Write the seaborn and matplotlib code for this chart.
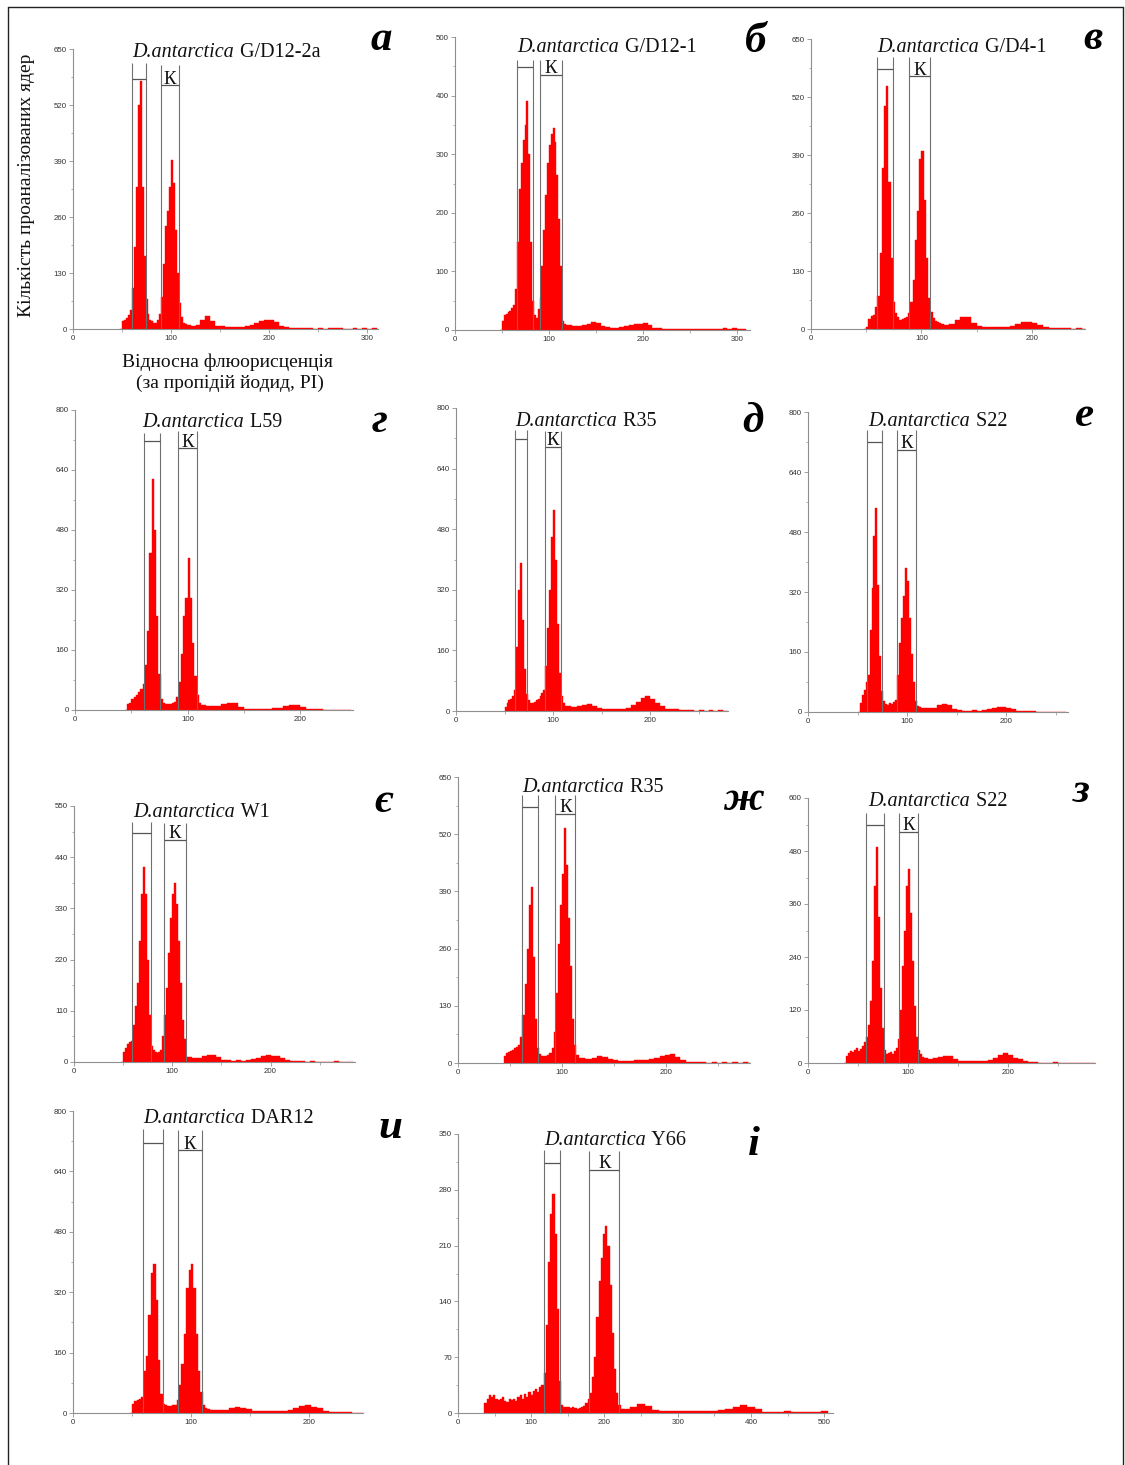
import numpy as np
import pandas as pd
import matplotlib
matplotlib.use("Agg")
import matplotlib.pyplot as plt
from matplotlib.text import Annotation
from matplotlib.ticker import MultipleLocator, AutoMinorLocator
from matplotlib.lines import Line2D
import seaborn as sns

# ---------------- data (counts) ----------------
# core bins: width 2 (width 3 for panel i); tail bins: width 5 (10 for panel i)
a_core = [0,18,22,25,32,45,95,190,330,520, 575,330,170,70,35,22,18,15,14,20,
          35,75,150,240,275,330,392,340,230,130, 60,28,15,12,10,9]
a_tail = [8,10,22,30,18,8,6,5,5,4,5,6,10,14,18,20,20,16,8,4,3,3,2,2,2,1,2,1,2,3,2,1,1,2,1,2,1,2]

b_core = [0,15,25,28,30,33,38,42,70,150, 240,285,325,350,390,300,150,50,25,20,
          35,55,110,170,230,285,315,335,345,320, 265,190,110,15,10,8]
b_tail = [8,7,6,8,10,14,12,7,5,4,4,5,7,9,10,11,12,8,4,3,2,2,1,2,1,2,1,1,2,1,1,2,2,3,2,3,2,2]

v_core = [0,5,22,30,32,50,75,170,360,500, 545,330,160,60,35,28,20,22,25,28,
          35,60,110,200,265,380,400,290,160,70, 38,25,18,15,13,12]
v_tail = [10,12,20,28,26,14,6,5,4,4,4,5,6,12,15,16,14,8,4,3,2,2,2,1,2,1]

g_core = [0,15,20,30,35,40,48,55,70,120, 210,420,615,480,250,95,30,18,16,15,
          17,18,22,35,75,150,250,300,405,300, 180,90,40,18,14,13,12,12]
g_tail = [10,12,15,18,18,8,4,4,3,4,4,5,6,10,14,13,8,4,3,2,1,0,0,0,0]

d_core = [10,22,28,32,40,55,170,320,390,240, 110,45,28,22,22,25,28,32,40,48,
          55,120,220,320,460,530,400,230,100,40, 22,14,12,12,11]
d_tail = [10,12,16,18,12,7,5,5,5,5,6,8,15,25,35,40,32,22,12,6,5,4,2,2,2,1,2,1,2,1,2,1]

e_core = [0,25,45,60,80,100,220,330,470,545, 340,150,55,30,22,20,24,22,26,32,
          100,185,250,310,385,350,250,155,80,30, 16,13,12,12,10]
e_tail = [10,12,18,22,18,8,5,4,4,5,4,5,7,10,13,14,12,7,4,3,2,3,1,1,1,1,0,0]

ye_core = [0,22,30,38,42,45,80,120,170,260, 360,420,360,220,100,35,25,22,20,22,
           25,55,100,160,235,310,360,385,340,260, 170,90,50,10,10,10]
ye_tail = [8,9,12,14,16,10,4,4,3,4,3,4,6,9,12,14,13,12,8,5,3,2,2,1,2,1,1,0,1,3,0,0,0]

zh_core = [15,22,25,28,30,33,36,40,60,110, 180,260,360,400,240,100,35,20,15,15,
           16,18,22,35,70,160,270,360,430,535, 450,330,220,100,40,18,12,12,11,10]
zh_tail = [10,12,15,14,10,6,5,5,5,6,6,7,8,12,15,18,20,14,6,3,2,2,2,1,2,1,2,1,2,1,2,1]

z_core = [0,15,22,28,25,30,35,28,32,38, 48,60,85,140,230,400,490,330,170,80,
          30,20,22,25,20,28,35,55,120,220, 300,400,440,340,230,130,60,30,20,14, 12,12]
z_tail = [10,12,14,16,15,8,5,4,4,5,4,5,7,12,18,22,18,12,8,4,2,2,1,1,0,2,0,1,1,0,1,1,1,1]

y_core = [0,25,32,35,38,42,110,150,260,370, 395,300,140,50,25,20,19,18,20,22,
          35,75,130,210,330,380,395,330,210,110, 55,22,12,10,9,8,8]
y_tail = [8,9,12,15,14,10,6,5,5,6,5,6,9,14,18,20,16,12,6,3,2,2,2,1,1]

i_core = [12,18,22,20,22,18,16,18,20,15, 14,17,16,18,15,20,22,18,24,20,
          26,22,28,30,26,32,35,50,110,190, 250,275,225,130,40,10,8,7,8,6,
          7,6,5,6,7,9,12,18,25,45, 70,120,165,195,225,235,210,160,100,55, 25,10,5]
i_tail = [5,8,11,9,4,3,3,3,3,3,3,3,3,4,5,8,10,7,5,1,1,1,2,1,1,1,1,2]

species = 'D.antarctica'
strain_names = ['G/D12-2a', 'G/D12-1', 'G/D4-1', 'L59', 'R35', 'S22',
                'W1', 'R35', 'S22', 'DAR12', 'Y66']
panel_letters = ['а', 'б', 'в', 'г', 'д', 'е', 'є', 'ж', 'з', 'и', 'і']
y_max = [650, 500, 650, 800, 800, 800, 550, 650, 600, 800, 350]
y_step = [130, 100, 130, 160, 160, 160, 110, 130, 120, 160, 70]
x_step = [100, 100, 100, 100, 100, 100, 100, 100, 100, 100, 100]
cores = [a_core, b_core, v_core, g_core, d_core, e_core, ye_core, zh_core, z_core, y_core, i_core]
tails = [a_tail, b_tail, v_tail, g_tail, d_tail, e_tail, ye_tail, zh_tail, z_tail, y_tail, i_tail]
core_start = [48, 48, 48, 44, 50, 50, 48, 44, 36, 48, 36]
core_w = [2, 2, 2, 2, 2, 2, 2, 2, 2, 2, 3]
tail_w = [5, 5, 5, 5, 5, 5, 5, 5, 5, 5, 10]
# gates: (lo, hi, top, bar)
gate1 = [(60, 74, 618, 580), (65.6, 83.3, 461, 448), (59.5, 74.6, 610, 582),
         (61.3, 75.5, 740, 717), (60.4, 73, 742, 719), (59.5, 75, 751, 719),
         (59.4, 78.8, 516, 493), (61.5, 76.6, 608, 582), (58.3, 76, 566, 539),
         (59.7, 76, 753, 716), (117.7, 139.5, 330, 314)]
gate2 = [(90, 108, 613, 566), (90.4, 114, 460, 436), (89, 108, 610, 566),
         (91.3, 108.7, 745, 698), (92, 107.7, 740, 698), (89.7, 109.2, 751, 700),
         (91.7, 113.8, 514, 478), (93.6, 112.8, 608, 567), (91, 110, 566, 524),
         (88.7, 109.3, 750, 696), (179.5, 220.5, 329, 305)]

# ---------------- layout (pixels) ----------------
W, H = 1125, 1465
axes_px = [(73, 378, 329, 49), (455, 750, 330, 37), (811, 1085, 329, 39),
           (75, 353, 710, 410), (456, 728, 711, 408), (808, 1068, 712, 412),
           (74, 355, 1062, 806), (458, 750, 1063, 777), (808, 1095, 1063, 798),
           (73, 363, 1413, 1111), (458, 833, 1413, 1134)]
x_max = [311, 314, 248, 247, 280, 262, 286, 281, 287, 246, 512]
title_px = [(132, 57), (517, 52), (877, 52), (142, 427), (515, 426), (868, 426),
            (133, 817), (522, 792), (868, 806), (143, 1123), (544, 1145)]
letter_px = [(381, 50), (756, 52), (1093, 49), (380, 432), (753, 432), (1085, 426),
             (383, 812), (744, 810), (1081, 802), (390, 1138), (754, 1155)]

sns.set_style("ticks")
plt.rcParams['font.family'] = ['Liberation Sans', 'DejaVu Sans']

SERIF = ['Liberation Serif', 'DejaVu Serif']
RED = '#ff0000'
AXC = '#8f8f8f'

fig = plt.figure(figsize=(W / 100, H / 100), dpi=100)
fig.patch.set_facecolor('white')


def fx(x):
    return x / W


def fy(y):
    return 1 - y / H


for k in range(11):
    l, r, b, t = axes_px[k]
    ax = fig.add_axes([fx(l), fy(b), (r - l) / W, (b - t) / H])
    core = np.asarray(cores[k], float)
    tail = np.asarray(tails[k], float)
    c_edges = core_start[k] + core_w[k] * np.arange(len(core) + 1)
    t_edges = c_edges[-1] + tail_w[k] * np.arange(1, len(tail) + 1)
    edges = np.concatenate([c_edges, t_edges]).astype(float)
    df = pd.DataFrame({
        'fluor': (edges[:-1] + edges[1:]) / 2,
        'count': np.concatenate([core, tail]),
    })
    sns.histplot(data=df, x='fluor', weights='count', bins=edges.tolist(),
                 ax=ax, color=RED, alpha=1, edgecolor=RED, linewidth=0.3,
                 zorder=2)
    ax.set_xlim(0, x_max[k])
    ax.set_ylim(0, y_max[k])
    ax.set_xlabel('')
    ax.set_ylabel('')
    ax.patch.set_alpha(0)
    for s in ['top', 'right']:
        ax.spines[s].set_visible(False)
    for s in ['left', 'bottom']:
        ax.spines[s].set_color(AXC)
        ax.spines[s].set_linewidth(0.8)
    ax.yaxis.set_major_locator(MultipleLocator(y_step[k]))
    ax.xaxis.set_major_locator(MultipleLocator(x_step[k]))
    ax.yaxis.set_minor_locator(AutoMinorLocator(2))
    ax.xaxis.set_minor_locator(AutoMinorLocator(2))
    ax.tick_params(axis='both', which='major', length=3, width=0.6, color=AXC,
                   labelsize=5.7, labelcolor='#333333', pad=1.5)
    ax.tick_params(axis='both', which='minor', length=1.8, width=0.5, color=AXC)

    # gates
    for (lo, hi, top, bar) in (gate1[k], gate2[k]):
        ax.vlines([lo, hi], 0, top, colors='#707070', linewidth=0.8, zorder=4,
                  clip_on=False)
        ax.hlines(bar, lo, hi, colors='#555555', linewidth=0.9, zorder=4,
                  clip_on=False)
    lo, hi, top, bar = gate2[k]
    ax.annotate('К', xy=((lo + hi) / 2, bar), xytext=(0, 1),
                textcoords='offset points', ha='center', va='baseline',
                fontsize=13.5, family=SERIF, color='#111111', zorder=5)

    # title: italic species + regular strain name, sharing one baseline
    tx, ty = title_px[k]
    t1 = fig.text(fx(tx), fy(ty), species, ha='left', va='baseline',
                  fontsize=14.5, family=SERIF, fontstyle='italic',
                  color='#111111')
    fig.add_artist(Annotation(
        ' ' + strain_names[k], xy=(1, 0), xycoords=t1, xytext=(1, 0),
        textcoords='offset points', ha='left', va='bottom', fontsize=14.5,
        family=SERIF, color='#111111'))

    lx, ly = letter_px[k]
    fig.text(fx(lx), fy(ly), panel_letters[k], ha='center', va='baseline',
             fontsize=31, family=SERIF, fontweight='bold', fontstyle='italic',
             color='black')

# axis titles (only once, on panel a)
fig.text(fx(27), fy(185), 'Кількість проаналізованих ядер', rotation=90,
         ha='center', va='center', fontsize=14, family=SERIF, color='#111111')
fig.text(fx(227), fy(367), 'Відносна флюорисценція', ha='center',
         va='baseline', fontsize=14, family=SERIF, color='#111111')
fig.text(fx(230), fy(388), '(за пропідій йодид, PI)', ha='center',
         va='baseline', fontsize=14, family=SERIF, color='#111111')

# page frame
fig.add_artist(Line2D([fx(8), fx(8)], [fy(7), fy(H)], color='#222222', lw=1.0))
fig.add_artist(Line2D([fx(8), fx(1123)], [fy(7), fy(7)], color='#222222', lw=1.0))
fig.add_artist(Line2D([fx(1123), fx(1123)], [fy(7), fy(H)], color='#222222', lw=1.0))

fig.savefig('out.png', dpi=100, facecolor='white')
